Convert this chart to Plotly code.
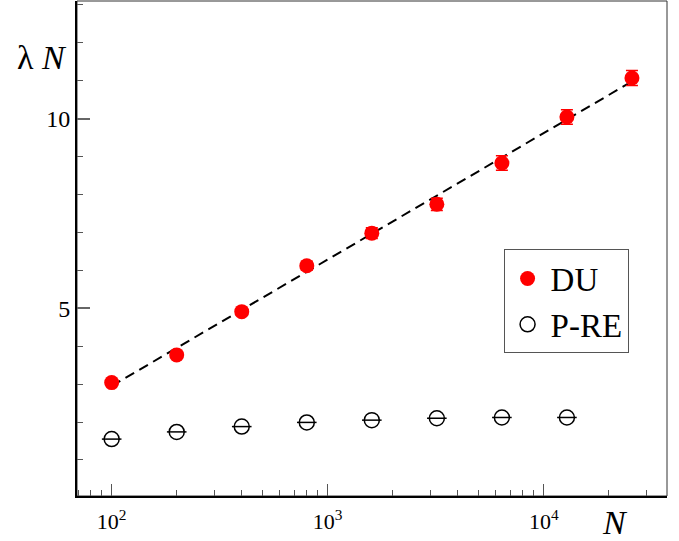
import plotly.graph_objects as go

# ---- data ----
N_du = [100, 200, 400, 800, 1600, 3200, 6400, 12800, 25600]
lam_du = [3.04, 3.77, 4.91, 6.12, 6.98, 7.74, 8.83, 10.04, 11.07]
err_du = [0.05, 0.06, 0.08, 0.12, 0.14, 0.16, 0.19, 0.19, 0.20]

N_pre = [100, 200, 400, 800, 1600, 3200, 6400, 12800]
lam_pre = [1.55, 1.74, 1.88, 1.99, 2.05, 2.10, 2.12, 2.12]

fit_N = [100, 25600]
fit_val = [2.95, 10.98]

x_major = [100, 1000, 10000]
x_major_text = ["10<sup>2</sup>", "10<sup>3</sup>", "10<sup>4</sup>"]
x_minor = [m * 10 ** e for e in (1, 2, 3, 4) for m in range(2, 10)]
y_major = [5, 10]
y_minor = list(range(0, 14))

FONT = "Liberation Serif, Times New Roman, DejaVu Serif, serif"

fig = go.Figure()

fig.add_trace(go.Scatter(
    x=fit_N, y=fit_val, mode="lines",
    line=dict(color="black", width=2, dash="10px,6px"),
    showlegend=False, hoverinfo="skip"))

fig.add_trace(go.Scatter(
    x=N_du, y=lam_du, mode="markers", name="DU",
    marker=dict(symbol="circle", size=15, color="#ff0000"),
    error_y=dict(type="data", array=err_du, color="#ff0000",
                 thickness=1.5, width=6)))

fig.add_trace(go.Scatter(
    x=N_pre, y=lam_pre, mode="markers", name="P-RE",
    marker=dict(symbol="circle-open", size=15, color="black",
                line=dict(width=1.5, color="black"))))

fig.add_trace(go.Scatter(
    x=N_pre, y=lam_pre, mode="markers", showlegend=False,
    hoverinfo="skip",
    marker=dict(symbol="line-ew", size=14, color="black",
                line=dict(width=1.5, color="black"))))

fig.update_layout(
    width=679, height=541,
    margin=dict(l=77, r=12, t=1, b=45),
    plot_bgcolor="white", paper_bgcolor="white",
    font=dict(family=FONT, color="black"),
    legend=dict(x=0.723, y=0.498, xanchor="left", yanchor="top",
                font=dict(family=FONT, size=33, color="black"),
                bordercolor="#555", borderwidth=1, bgcolor="white",
                itemsizing="trace", itemwidth=36),
    xaxis=dict(type="log", range=[1.8395, 4.5705],
               showgrid=False, zeroline=False,
               showline=True, linecolor="black", linewidth=2,
               tickvals=x_major, ticktext=x_major_text,
               ticks="inside", ticklen=12, tickcolor="#555", tickwidth=1,
               ticklabelstandoff=5,
               tickfont=dict(family=FONT, size=22, color="black"),
               minor=dict(tickvals=x_minor, ticks="inside", ticklen=6,
                          tickcolor="#555", tickwidth=1, showgrid=False)),
    yaxis=dict(range=[0.05, 13.1],
               showgrid=False, zeroline=False,
               showline=True, linecolor="black", linewidth=2,
               tickvals=y_major, ticks="inside", ticklen=13,
               tickcolor="#666", tickwidth=2,
               tickfont=dict(family=FONT, size=24, color="black"),
               minor=dict(tickvals=y_minor, ticks="inside", ticklen=6,
                          tickcolor="#555", tickwidth=1, showgrid=False)),
)

# thin frame on top / right
fig.add_shape(type="rect", xref="paper", yref="paper", x0=0, y0=0, x1=1, y1=1,
              line=dict(color="#333", width=1), layer="below")

fig.add_annotation(xref="paper", yref="paper", x=-0.059, y=0.885,
                   xanchor="center", yanchor="middle", showarrow=False,
                   text="λ <i>N</i>", font=dict(family=FONT, size=34, color="black"))
fig.add_annotation(xref="paper", yref="paper", x=0.912, y=-0.054,
                   xanchor="center", yanchor="middle", showarrow=False,
                   text="<i>N</i>", font=dict(family=FONT, size=34, color="black"))

fig.write_html("out.html",
               config={"displayModeBar": False},
               post_script="document.body.style.margin='0';")
